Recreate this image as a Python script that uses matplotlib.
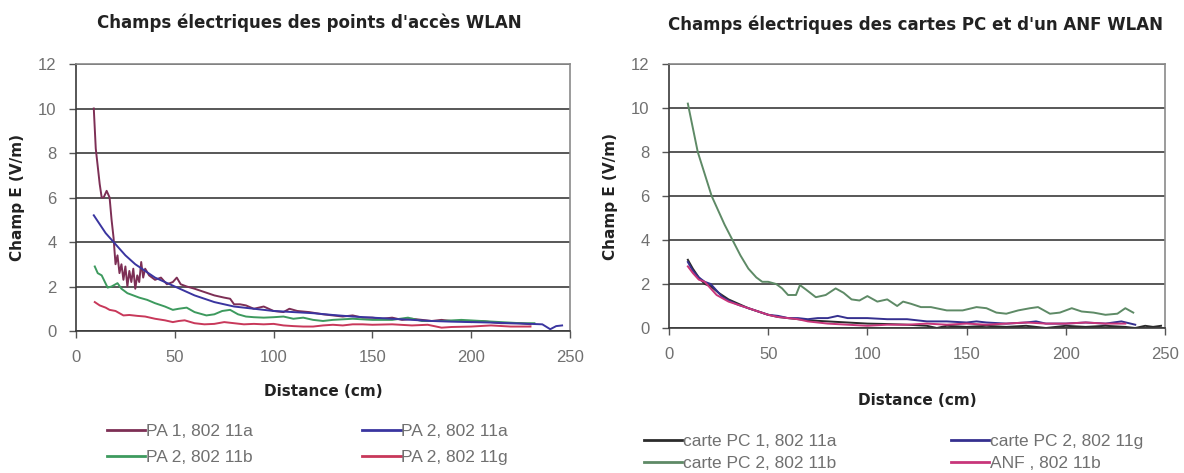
import numpy as np
import matplotlib
matplotlib.use("Agg")
import matplotlib.pyplot as plt

# ---- access points (left) ----
pa1_a_x = [9, 10, 11, 12, 13, 14, 15.5, 17, 18, 19, 20, 21, 22, 23, 24, 25, 26, 27, 28, 29,
           30, 31, 32, 33, 34, 35, 37, 40, 43, 46, 49, 51, 53, 56, 60, 65, 70, 75, 78, 80,
           83, 86, 90, 95, 100, 105, 108, 112, 118, 125, 130, 135, 140, 145, 150, 155, 160,
           165, 170, 175, 180, 185, 190, 195, 200, 205, 210, 215, 220, 225, 230]
pa1_a_y = [10.0, 8.2, 7.4, 6.6, 6.0, 6.0, 6.3, 6.0, 5.0, 4.2, 3.0, 3.4, 2.6, 3.0, 2.3, 2.9,
           2.0, 2.7, 2.2, 2.8, 1.9, 2.5, 2.2, 3.1, 2.4, 2.8, 2.5, 2.3, 2.4, 2.1, 2.2, 2.4,
           2.1, 2.0, 1.9, 1.75, 1.6, 1.5, 1.45, 1.2, 1.2, 1.15, 1.0, 1.1, 0.9, 0.85, 1.0,
           0.9, 0.85, 0.75, 0.7, 0.65, 0.7, 0.6, 0.6, 0.55, 0.6, 0.5, 0.55, 0.5, 0.45, 0.5,
           0.45, 0.45, 0.4, 0.45, 0.4, 0.35, 0.35, 0.35, 0.3]

pa2_a_x = [9, 12, 15, 18, 20, 25, 30, 35, 40, 45, 50, 55, 60, 70, 80, 90, 100, 110, 120,
           130, 140, 150, 160, 170, 180, 190, 200, 210, 220, 230, 236, 240, 243, 246]
pa2_a_y = [5.2, 4.8, 4.4, 4.1, 3.9, 3.4, 3.0, 2.7, 2.4, 2.2, 2.0, 1.8, 1.6, 1.3, 1.1, 1.0,
           0.9, 0.85, 0.8, 0.72, 0.65, 0.6, 0.55, 0.5, 0.45, 0.42, 0.4, 0.38, 0.35, 0.32,
           0.3, 0.08, 0.22, 0.25]

pa2_b_x = [9.5, 11, 13, 16, 18, 21, 23, 26, 29, 32, 36, 40, 45, 49, 52, 56, 60, 66, 70,
           74, 78, 82, 86, 90, 95, 100, 105, 110, 115, 120, 125, 130, 140, 150, 160, 168,
           175, 185, 195, 205, 215, 225, 232]
pa2_b_y = [2.9, 2.6, 2.5, 1.95, 2.0, 2.15, 1.9, 1.7, 1.6, 1.5, 1.4, 1.25, 1.1, 0.95, 1.0,
           1.05, 0.85, 0.7, 0.75, 0.9, 0.95, 0.75, 0.65, 0.62, 0.6, 0.62, 0.65, 0.55, 0.6,
           0.5, 0.45, 0.5, 0.55, 0.5, 0.5, 0.6, 0.45, 0.45, 0.5, 0.45, 0.4, 0.35, 0.35]

pa2_g_x = [9.5, 12, 15, 17, 20, 24, 27, 31, 35, 40, 45, 49, 52, 55, 60, 65, 70, 75, 80,
           85, 90, 95, 100, 105, 110, 115, 120, 125, 130, 135, 140, 145, 150, 160, 170,
           178, 185, 190, 200, 210, 220, 230]
pa2_g_y = [1.3, 1.15, 1.05, 0.95, 0.9, 0.7, 0.72, 0.68, 0.65, 0.55, 0.48, 0.4, 0.45, 0.48,
           0.35, 0.3, 0.32, 0.4, 0.35, 0.3, 0.32, 0.3, 0.32, 0.25, 0.22, 0.2, 0.2, 0.25,
           0.28, 0.25, 0.3, 0.3, 0.28, 0.3, 0.25, 0.28, 0.15, 0.18, 0.2, 0.25, 0.2, 0.2]

# ---- PC cards and ANF (right) ----
pc1_a_x = [9.5, 12, 15, 18, 21, 25, 30, 35, 40, 45, 50, 55, 60, 70, 80, 90, 100, 110,
           120, 130, 135, 140, 150, 160, 170, 180, 190, 200, 210, 220, 230, 235, 240, 244,
           248]
pc1_a_y = [3.1, 2.7, 2.3, 2.0, 1.9, 1.6, 1.3, 1.1, 0.9, 0.75, 0.6, 0.5, 0.45, 0.35, 0.3,
           0.25, 0.2, 0.18, 0.15, 0.1, 0.0, 0.1, 0.05, 0.1, 0.05, 0.1, 0.0, 0.1, 0.05, 0.1,
           0.05, 0.0, 0.1, 0.05, 0.1]

pc2_b_x = [9.5, 12, 14.5, 18, 21.5, 25, 28, 32, 36, 40, 44, 47, 50, 54, 57, 60, 64, 66,
           69, 74, 79, 84, 88, 92, 96, 100, 105, 110, 115, 118, 122, 127, 132, 140, 148,
           155, 160, 165, 170, 176, 182, 186, 192, 197, 203, 208, 214, 220, 226, 230, 234]
pc2_b_y = [10.2, 9.1, 8.0, 7.0, 6.0, 5.3, 4.7, 4.0, 3.3, 2.7, 2.3, 2.1, 2.1, 2.0, 1.8,
           1.5, 1.5, 1.95, 1.75, 1.4, 1.5, 1.8, 1.6, 1.3, 1.25, 1.45, 1.2, 1.3, 1.0, 1.2,
           1.1, 0.95, 0.95, 0.8, 0.8, 0.95, 0.9, 0.7, 0.65, 0.8, 0.9, 0.95, 0.65, 0.7, 0.9,
           0.75, 0.7, 0.6, 0.65, 0.9, 0.7]

pc2_g_x = [9.5, 12, 15, 18, 21, 24, 27, 30, 35, 40, 45, 50, 55, 60, 65, 70, 75, 80, 85,
           90, 95, 100, 110, 120, 125, 130, 140, 150, 155, 160, 170, 180, 185, 190, 200,
           210, 220, 228, 235]
pc2_g_y = [3.0, 2.6, 2.3, 2.1, 2.0, 1.7, 1.4, 1.25, 1.05, 0.9, 0.75, 0.6, 0.55, 0.45,
           0.45, 0.4, 0.45, 0.45, 0.55, 0.45, 0.45, 0.45, 0.4, 0.4, 0.35, 0.3, 0.3, 0.25,
           0.3, 0.25, 0.2, 0.25, 0.3, 0.2, 0.2, 0.25, 0.2, 0.3, 0.15]

anf_b_x = [9.5, 12, 15, 18, 21, 24, 27, 30, 35, 40, 45, 50, 55, 60, 65, 70, 75, 80, 90,
           100, 110, 120, 130, 140, 150, 160, 170, 180, 190, 200, 210, 220, 230]
anf_b_y = [2.8, 2.5, 2.2, 2.1, 1.8, 1.5, 1.35, 1.2, 1.05, 0.9, 0.75, 0.6, 0.5, 0.45, 0.4,
           0.3, 0.25, 0.2, 0.15, 0.1, 0.15, 0.15, 0.2, 0.15, 0.2, 0.15, 0.2, 0.25, 0.2,
           0.2, 0.25, 0.2, 0.2]

left_series = [
    (pa1_a_x, pa1_a_y, "PA 1, 802 11a", "#7d2f55"),
    (pa2_b_x, pa2_b_y, "PA 2, 802 11b", "#3d9a5e"),
    (pa2_a_x, pa2_a_y, "PA 2, 802 11a", "#3a35a0"),
    (pa2_g_x, pa2_g_y, "PA 2, 802 11g", "#c8385a"),
]
right_series = [
    (pc1_a_x, pc1_a_y, "carte PC 1, 802 11a", "#2b2b2b"),
    (pc2_b_x, pc2_b_y, "carte PC 2, 802 11b", "#5e8a66"),
    (pc2_g_x, pc2_g_y, "carte PC 2, 802 11g", "#35308f"),
    (anf_b_x, anf_b_y, "ANF , 802 11b", "#c8357a"),
]

W, H = 1184, 473
fig = plt.figure(figsize=(W / 100, H / 100), dpi=100)

TICK_FONT = dict(family="Liberation Sans", size=12, color="#707070")
BOLD = dict(family="DejaVu Sans", weight="bold", size=11, color="#222222")


def px_box(left, top, right, bottom):
    return [left / W, 1 - bottom / H, (right - left) / W, (bottom - top) / H]


def draw_panel(rect, series, title, title_xy, xlabel_y, leg_xy, colspace, rowspace):
    ax = fig.add_axes(rect)
    for x, y, label, color in series:
        ax.plot(x, y, color=color, lw=1.4, label=label)
    ax.set_xlim(0, 250)
    ax.set_ylim(0, 12)
    ax.set_xticks([0, 50, 100, 150, 200, 250])
    ax.set_yticks(range(0, 13, 2))
    ax.yaxis.grid(True, color="#4a4a4a", lw=1.3)
    ax.set_axisbelow(True)
    for side in ["left", "bottom"]:
        ax.spines[side].set_color("#3a3a3a")
        ax.spines[side].set_linewidth(1.2)
    for side in ["top", "right"]:
        ax.spines[side].set_color("#8a8a8a")
        ax.spines[side].set_linewidth(1.2)
    ax.tick_params(axis="both", length=5, width=1, color="#555555", pad=9)
    for lab in ax.get_xticklabels() + ax.get_yticklabels():
        lab.set_fontfamily(TICK_FONT["family"])
        lab.set_fontsize(TICK_FONT["size"])
        lab.set_color(TICK_FONT["color"])

    ax.set_ylabel("Champ E (V/m)", labelpad=9, **BOLD)
    fig.text(title_xy[0] / W, 1 - title_xy[1] / H, title, ha="center", va="center",
             family="DejaVu Sans", weight="bold", size=12, color="#222222")
    fig.text(rect[0] + rect[2] / 2, 1 - xlabel_y / H, "Distance (cm)",
             ha="center", va="center", **BOLD)

    leg = ax.legend(loc="upper left", bbox_to_anchor=(leg_xy[0] / W, 1 - leg_xy[1] / H),
                    bbox_transform=fig.transFigure, ncol=2, frameon=False,
                    prop=dict(family="Liberation Sans", size=12.5),
                    handlelength=2.2, handletextpad=0.05, columnspacing=colspace,
                    labelspacing=rowspace, borderaxespad=0, borderpad=0)
    for t in leg.get_texts():
        t.set_color("#707070")
    for h in leg.get_lines():
        h.set_linewidth(2)
    return ax


draw_panel(px_box(76, 64, 570, 331), left_series,
           "Champs électriques des points d'accès WLAN", (309, 23), 392,
           (107, 424), 6.3, 0.6)
draw_panel(px_box(669, 64, 1165, 328), right_series,
           "Champs électriques des cartes PC et d'un ANF WLAN", (915, 25), 400,
           (644, 434), 6.6, 0.37)

fig.savefig("out.png", dpi=100)
